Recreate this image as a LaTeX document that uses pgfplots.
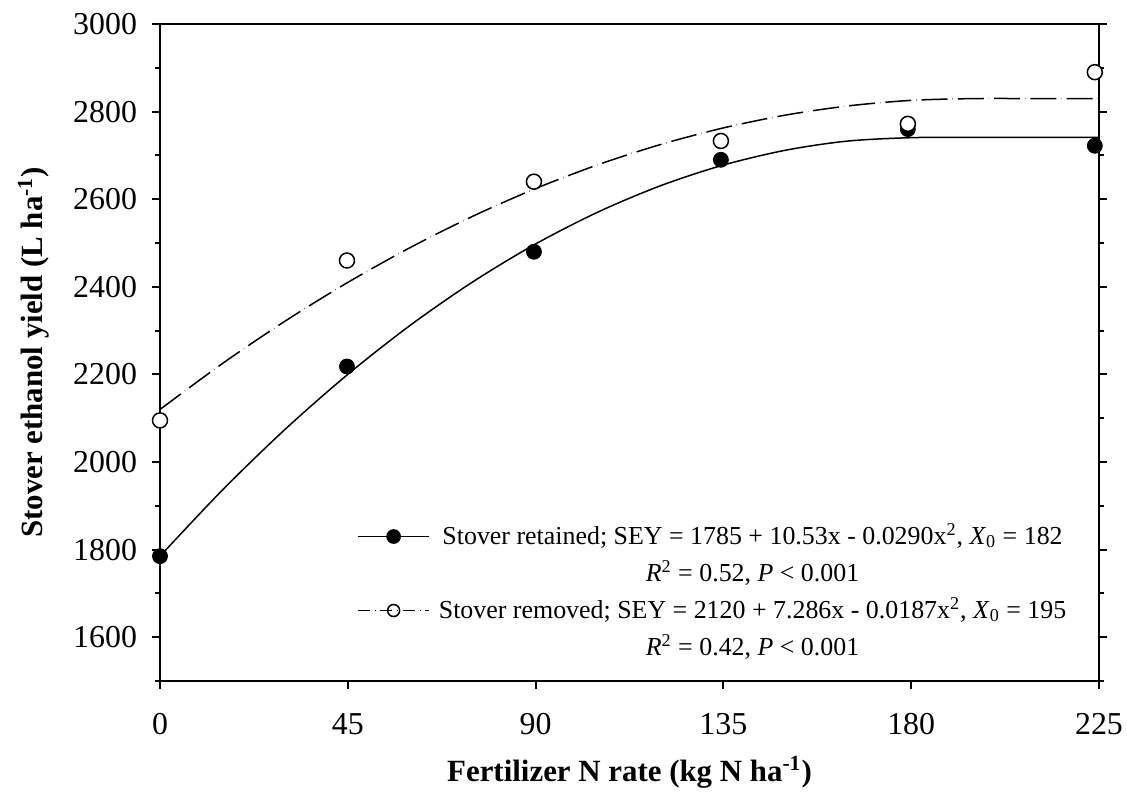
\documentclass[border=0pt]{standalone}
\usepackage{fontspec}
\setmainfont{Liberation Serif}
\usepackage{pgfplots}
\pgfplotsset{compat=1.18}
\newcommand{\ls}{\rule[-5.5bp]{0pt}{18.5bp}}
\begin{document}
\begin{tikzpicture}
\begin{axis}[
  name=ax,
  scale only axis, width=469.5bp, height=328.5bp,
  xmin=0, xmax=225, ymin=1500, ymax=3000,
  xtick={0,45,90,135,180,225},
  ytick={1600,1800,2000,2200,2400,2600,2800,3000},
  minor ytick={1500,1700,1900,2100,2300,2500,2700,2900},
  xtick pos=bottom, ytick pos=both, yticklabel pos=left,
  tick align=outside,
  major tick length=4bp, minor tick length=2.5bp,
  axis line style={line width=1bp},
  tick style={line width=1bp, black},
  ticklabel style={font=\fontsize{16}{19}\selectfont},
  xticklabel style={yshift=-8.5bp},
  yticklabel style={xshift=-4bp},
  /pgf/number format/assume math mode=true,
  /pgf/number format/1000 sep={},
  every axis x label/.style={at={(axis description cs:0.5,0)}, anchor=base, inner sep=0pt, yshift=-50bp, font=\fontsize{15.5}{18}\selectfont\bfseries},
  every axis y label/.style={at={(axis description cs:-0.125,0.5)}, rotate=90, anchor=base, inner sep=0pt, font=\fontsize{15.5}{18}\selectfont\bfseries},
  xlabel={Fertilizer N rate (kg N ha\textsuperscript{-1})},
  ylabel={Stover ethanol yield (L ha\textsuperscript{-1})},
  legend style={at={(axis cs:47.2,1873)}, anchor=north west, draw=none, fill=none, inner sep=0pt, row sep=0pt,
    font=\fontsize{13}{15}\selectfont,
    nodes={inner sep=0pt, text depth=},
    /tikz/every odd column/.append style={column sep=4.5bp}},
  legend cell align=center,
  legend image code/.code={\draw[mark repeat=2,mark phase=2,#1] plot coordinates {(0bp,0bp) (17.75bp,0bp) (35.5bp,0bp)};},
]
% fitted quadratic-plateau curves (values read from the fits)
\addplot[black, line width=0.75bp, smooth, forget plot] coordinates {
 (0,1785) (15,1936.4) (30,2074.8) (45,2200.1) (60,2312.4) (75,2411.6) (90,2497.8)
 (105,2570.9) (120,2631.0) (135,2678.0) (150,2712.0) (165,2732.9) (182,2740.9) (203,2740.9) (225,2740.9)};
\addplot[black, line width=0.75bp, smooth, dash pattern=on 13bp off 2.5bp on 0.15bp off 2.5bp, forget plot] coordinates {
 (0,2120) (15,2225.1) (30,2321.8) (45,2410.0) (60,2489.8) (75,2561.3) (90,2624.3)
 (105,2678.9) (120,2725.0) (135,2762.8) (150,2792.2) (165,2813.1) (180,2825.6) (195,2829.7) (210,2829.7) (225,2829.7)};
% observed means
\addplot[only marks, mark=*, mark size=3.75bp, black, forget plot] coordinates {
 (0,1785) (44.8,2218) (89.6,2480) (134.4,2690) (179.2,2760) (224,2722)};
\addplot[only marks, mark=*, mark size=3.75bp, mark options={fill=white, draw=black, line width=0.75bp}, forget plot] coordinates {
 (0,2095) (44.8,2460) (89.6,2640) (134.4,2733) (179.2,2772) (224,2890)};
\addlegendimage{black, line width=0.75bp, mark=*, mark size=3.3bp}
\addlegendentry{\ls Stover retained; SEY = 1785 + 10.53x - 0.0290x\textsuperscript{2}, \textit{X}\textsubscript{0} = 182}
\addlegendimage{empty legend}
\addlegendentry{\ls\textit{R}\textsuperscript{2} = 0.52, \textit{P} < 0.001}
\addlegendimage{black, line width=0.75bp, dash pattern=on 6bp off 2.5bp on 0.15bp off 2.5bp, mark=o, mark size=3bp, mark options={solid}}
\addlegendentry{\ls Stover removed; SEY = 2120 + 7.286x - 0.0187x\textsuperscript{2}, \textit{X}\textsubscript{0} = 195}
\addlegendimage{empty legend}
\addlegendentry{\ls\textit{R}\textsuperscript{2} = 0.42, \textit{P} < 0.001}
\end{axis}
\pgfresetboundingbox
\path ([shift={(-80bp,-61.5bp)}]ax.south west) rectangle ([shift={(14bp,12bp)}]ax.north east);
\end{tikzpicture}
\end{document}
